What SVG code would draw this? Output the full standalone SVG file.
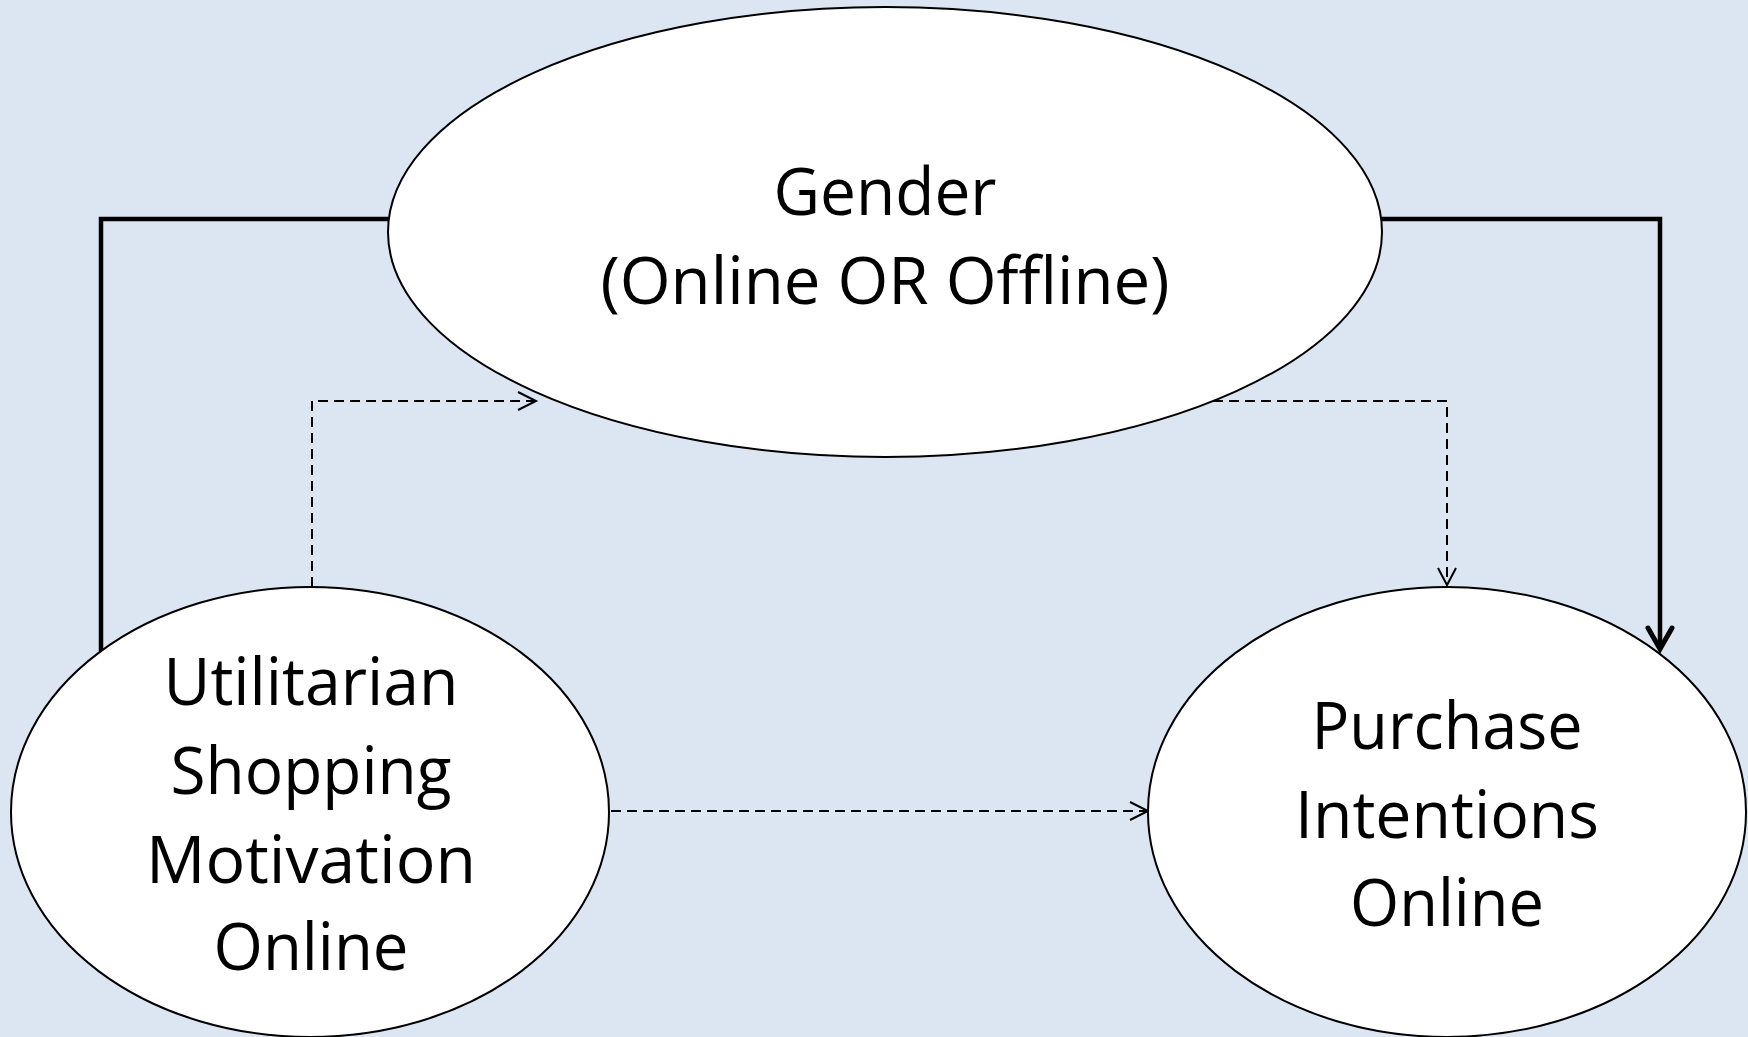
<svg xmlns="http://www.w3.org/2000/svg" width="1748" height="1037" viewBox="0 0 1748 1037">
  <defs>
    <style>
      .node { fill: #ffffff; stroke: #000000; stroke-width: 2; }
      .label { font-family: "Open Sans", "Liberation Sans", sans-serif; font-size: 66px; fill: #000000; text-anchor: middle; }
      .solid { fill: none; stroke: #000000; stroke-width: 4.5; }
      .dashed { fill: none; stroke: #000000; stroke-width: 2; stroke-dasharray: 10 6; }
      .head-thick { fill: none; stroke: #000000; stroke-width: 5; stroke-linecap: round; stroke-linejoin: miter; }
      .head-thin { fill: none; stroke: #000000; stroke-width: 2; stroke-linejoin: miter; }
    </style>
  </defs>
  <rect x="0" y="0" width="1748" height="1037" fill="#dce6f2"/>

  <g id="connectors">
    <path class="solid" d="M 389 219 L 101 219 L 101 651"/>
    <path class="solid" d="M 1381 219 L 1660 219 L 1660 648"/>
    <path class="head-thick" d="M 1648 628 L 1660 649 L 1672 628"/>
    <path class="dashed" d="M 312 587 L 312 401 L 535 401"/>
    <path class="head-thin" d="M 518 392 L 536 401 L 518 410"/>
    <path class="dashed" d="M 1213 401 L 1447 401 L 1447 585"/>
    <path class="head-thin" d="M 1438 568 L 1447 585 L 1456 568"/>
    <path class="dashed" d="M 611 811 L 1147 811"/>
    <path class="head-thin" d="M 1130 802 L 1148 811 L 1130 820"/>
  </g>

  <g id="node-gender">
    <ellipse class="node" cx="885" cy="232" rx="497" ry="225"/>
    <text class="label" x="885" y="215" textLength="223" lengthAdjust="spacingAndGlyphs">Gender</text>
    <text class="label" x="885" y="304" textLength="569" lengthAdjust="spacingAndGlyphs">(Online OR Offline)</text>
  </g>

  <g id="node-utilitarian">
    <ellipse class="node" cx="310" cy="812" rx="299" ry="225"/>
    <text class="label" x="311" y="705" textLength="295" lengthAdjust="spacingAndGlyphs">Utilitarian</text>
    <text class="label" x="311" y="794" textLength="281" lengthAdjust="spacingAndGlyphs">Shopping</text>
    <text class="label" x="311" y="883" textLength="330" lengthAdjust="spacingAndGlyphs">Motivation</text>
    <text class="label" x="311" y="970" textLength="195" lengthAdjust="spacingAndGlyphs">Online</text>
  </g>

  <g id="node-purchase">
    <ellipse class="node" cx="1447" cy="812" rx="299" ry="225"/>
    <text class="label" x="1447" y="749" textLength="271" lengthAdjust="spacingAndGlyphs">Purchase</text>
    <text class="label" x="1447" y="838" textLength="304" lengthAdjust="spacingAndGlyphs">Intentions</text>
    <text class="label" x="1447" y="926" textLength="194" lengthAdjust="spacingAndGlyphs">Online</text>
  </g>
</svg>
